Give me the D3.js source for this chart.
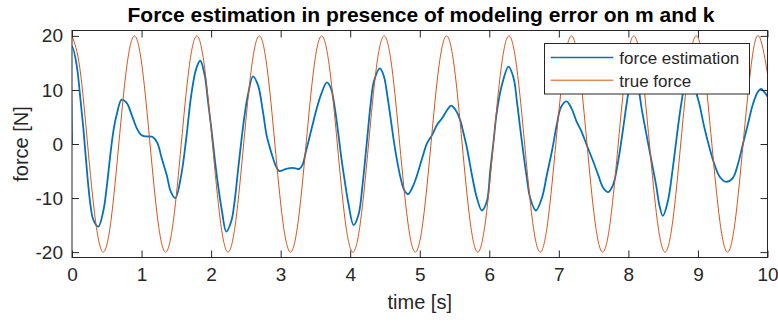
<!DOCTYPE html>
<html>
<head>
<meta charset="utf-8">
<script src="https://cdn.jsdelivr.net/npm/d3@7"></script>
<style>
  html, body { margin: 0; padding: 0; background: #fff; }
  svg text { font-family: "Liberation Sans", Arial, Helvetica, sans-serif; fill: #262626; }
</style>
</head>
<body>
<svg id="chart" width="778" height="324"></svg>
<script>
// ---------- data ----------
const title = "Force estimation in presence of modeling error on m and k";
const xLabel = "time [s]";
const yLabel = "force [N]";
const seriesNames = ["force estimation", "true force"];
const xTicks = [0, 1, 2, 3, 4, 5, 6, 7, 8, 9, 10];
const yTicks = [-20, -10, 0, 10, 20];

// force estimation (blue)
const estTime = [0, 0.003, 0.067, 0.115, 0.163, 0.211, 0.259, 0.306, 0.378, 0.45, 0.498, 0.546, 0.594, 0.642, 0.714, 0.786, 0.858, 0.93, 1.0, 1.074, 1.16, 1.227, 1.289, 1.361, 1.42, 1.485, 1.571, 1.643, 1.715, 1.787, 1.844, 1.907, 1.955, 2.003, 2.051, 2.099, 2.156, 2.218, 2.29, 2.338, 2.386, 2.434, 2.482, 2.53, 2.602, 2.674, 2.745, 2.8, 2.86, 2.932, 2.98, 3.076, 3.172, 3.268, 3.316, 3.364, 3.412, 3.46, 3.507, 3.579, 3.665, 3.723, 3.771, 3.819, 3.867, 3.915, 3.977, 4.049, 4.121, 4.178, 4.21, 4.245, 4.293, 4.341, 4.427, 4.485, 4.532, 4.581, 4.628, 4.676, 4.725, 4.772, 4.83, 4.892, 4.963, 5.035, 5.107, 5.179, 5.251, 5.323, 5.395, 5.452, 5.515, 5.587, 5.62, 5.678, 5.75, 5.822, 5.893, 5.965, 6.013, 6.061, 6.109, 6.181, 6.277, 6.349, 6.397, 6.444, 6.493, 6.54, 6.588, 6.67, 6.756, 6.828, 6.9, 6.971, 7.03, 7.11, 7.182, 7.254, 7.326, 7.398, 7.493, 7.565, 7.637, 7.709, 7.781, 7.853, 7.925, 7.973, 8.03, 8.08, 8.135, 8.19, 8.26, 8.333, 8.405, 8.44, 8.495, 8.567, 8.639, 8.711, 8.758, 8.82, 8.89, 8.95, 8.98, 9.022, 9.094, 9.166, 9.238, 9.31, 9.405, 9.5, 9.573, 9.645, 9.717, 9.789, 9.86, 9.908, 9.96, 10.0];
const estForce = [0, 18.0, 14.6, 9.1, 2.95, -4.4, -10.6, -14.0, -15.3, -12.4, -8.1, -2.6, 2.3, 5.4, 8.2, 7.6, 5.4, 2.95, 1.6, 1.4, 1.3, 0.2, -2.6, -5.7, -8.8, -10.0, -5.7, 1.1, 9.1, 14.0, 15.4, 12.8, 7.9, 2.95, -2.6, -7.5, -12.4, -16.2, -14.3, -10.6, -5.0, 0.5, 5.4, 9.1, 12.5, 10.9, 6.0, 1.5, -1.35, -4.1, -5.0, -4.6, -4.4, -4.6, -3.8, -1.35, 1.1, 3.6, 6.0, 9.1, 11.4, 10.3, 7.3, 2.95, -2.0, -6.3, -11.2, -15.0, -13.0, -7.5, -3.5, 1.1, 7.3, 11.6, 14.0, 12.5, 9.1, 4.8, 0.5, -3.2, -6.3, -8.4, -9.3, -8.1, -5.7, -2.6, 0.2, 1.7, 3.6, 4.8, 6.3, 7.1, 6.3, 4.2, 2.5, -0.7, -5.7, -10.0, -12.3, -10.6, -5.0, 0.5, 6.0, 10.9, 14.3, 12.2, 7.9, 2.95, -2.0, -6.3, -10.0, -12.3, -10.0, -5.7, -1.35, 3.6, 6.8, 7.9, 6.6, 4.2, 2.3, -0.1, -3.2, -5.7, -8.1, -8.9, -7.5, -3.2, 2.95, 7.3, 11.5, 13.0, 11.0, 6.6, 1.7, -3.2, -8.1, -11.0, -13.3, -10.6, -4.4, 2.95, 7.3, 11.5, 13.0, 11.0, 9.3, 7.3, 2.95, -0.7, -3.8, -6.0, -7.0, -6.3, -3.8, -0.1, 3.6, 7.3, 9.6, 10.2, 9.5, 8.8];

// true force (red): values read at every eighth of its period
const trueTime = [0, 0.112, 0.224, 0.337, 0.449, 0.561, 0.673, 0.785, 0.898, 1.010, 1.122, 1.234, 1.346, 1.459, 1.571, 1.683, 1.795, 1.907, 2.020, 2.132, 2.244, 2.356, 2.468, 2.581, 2.693, 2.805, 2.917, 3.029, 3.142, 3.254, 3.366, 3.478, 3.590, 3.703, 3.815, 3.927, 4.039, 4.151, 4.264, 4.376, 4.488, 4.600, 4.712, 4.825, 4.937, 5.049, 5.161, 5.273, 5.386, 5.498, 5.610, 5.722, 5.834, 5.947, 6.059, 6.171, 6.283, 6.395, 6.508, 6.620, 6.732, 6.844, 6.956, 7.069, 7.181, 7.293, 7.405, 7.517, 7.630, 7.742, 7.854, 7.966, 8.078, 8.191, 8.303, 8.415, 8.527, 8.639, 8.752, 8.864, 8.976, 9.088, 9.200, 9.313, 9.425, 9.537, 9.649, 9.761, 9.874, 9.986, 10.0];
const trueForce = [20, 14.1, 0, -14.1, -20, -14.1, 0, 14.1, 20, 14.1, 0, -14.1, -20, -14.1, 0, 14.1, 20, 14.1, 0, -14.1, -20, -14.1, 0, 14.1, 20, 14.1, 0, -14.1, -20, -14.1, 0, 14.1, 20, 14.1, 0, -14.1, -20, -14.1, 0, 14.1, 20, 14.1, 0, -14.1, -20, -14.1, 0, 14.1, 20, 14.1, 0, -14.1, -20, -14.1, 0, 14.1, 20, 14.1, 0, -14.1, -20, -14.1, 0, 14.1, 20, 14.1, 0, -14.1, -20, -14.1, 0, 14.1, 20, 14.1, 0, -14.1, -20, -14.1, 0, 14.1, 20, 14.1, 0, -14.1, -20, -14.1, 0, 14.1, 20, 14.1, 12.7];

const colors = ["#0072BD", "#D95319"];
const axisColor = "#262626";

// ---------- layout ----------
const L = 72, R = 767.5, T = 30.5, B = 257.5;
const svg = d3.select("#chart");
svg.append("rect").attr("width", 778).attr("height", 324).attr("fill", "#fff");

const x = d3.scaleLinear().domain([0, 10]).range([L, R]);
const y = d3.scaleLinear().domain([-21, 21]).range([B, T]);

svg.append("defs").append("clipPath").attr("id", "clip")
  .append("rect").attr("x", L).attr("y", T).attr("width", R - L).attr("height", B - T);

// lines
const estData = estTime.map((t, i) => [t, estForce[i]]);
const trueData = trueTime.map((t, i) => [t, trueForce[i]]);

const lineEst = d3.line().x(d => x(d[0])).y(d => y(d[1])).curve(d3.curveCatmullRom.alpha(0.5));
const lineTrue = d3.line().x(d => x(d[0])).y(d => y(d[1])).curve(d3.curveNatural);

const g = svg.append("g").attr("clip-path", "url(#clip)");
g.append("path").datum(estData).attr("d", lineEst)
  .attr("fill", "none").attr("stroke", colors[0]).attr("stroke-width", 1.8).attr("stroke-linejoin", "round");
g.append("path").datum(trueData).attr("d", lineTrue)
  .attr("fill", "none").attr("stroke", colors[1]).attr("stroke-width", 1);

// axes
const fmt = d => String(d);
function styleAxis(sel) {
  sel.select(".domain").remove();
  sel.selectAll(".tick line").attr("stroke", axisColor);
  sel.selectAll(".tick text").attr("fill", axisColor)
    .style("font-family", '"Liberation Sans", Arial, Helvetica, sans-serif');
}
const ax = svg.append("g").attr("transform", `translate(0,${B})`)
  .call(d3.axisBottom(x).tickValues(xTicks).tickSize(-7).tickPadding(10).tickFormat(fmt));
styleAxis(ax);
ax.selectAll(".tick text").style("font-size", "19px");

const axTop = svg.append("g").attr("transform", `translate(0,${T})`)
  .call(d3.axisTop(x).tickValues(xTicks).tickSize(-7).tickFormat(""));
styleAxis(axTop);

const ay = svg.append("g").attr("transform", `translate(${L},0)`)
  .call(d3.axisLeft(y).tickValues(yTicks).tickSize(-7).tickPadding(9).tickFormat(fmt));
styleAxis(ay);
ay.selectAll(".tick text").style("font-size", "19px");

const ayR = svg.append("g").attr("transform", `translate(${R},0)`)
  .call(d3.axisRight(y).tickValues(yTicks).tickSize(-7).tickFormat(""));
styleAxis(ayR);

svg.append("rect").attr("x", L).attr("y", T).attr("width", R - L).attr("height", B - T)
  .attr("fill", "none").attr("stroke", axisColor).attr("stroke-width", 1);

// labels
svg.append("text").attr("x", 421).attr("y", 21.5).attr("text-anchor", "middle")
  .style("font-size", "21px").style("font-weight", "bold").style("fill", "#000").text(title);
svg.append("text").attr("x", (L + R) / 2).attr("y", 309).attr("text-anchor", "middle")
  .style("font-size", "20px").text(xLabel);
svg.append("text").attr("transform", `translate(28,${(T + B) / 2}) rotate(-90)`).attr("text-anchor", "middle")
  .style("font-size", "20px").text(yLabel);

// legend
const leg = svg.append("g");
leg.append("rect").attr("x", 544.5).attr("y", 43.5).attr("width", 205).attr("height", 50.5)
  .attr("fill", "#fff").attr("stroke", axisColor).attr("stroke-width", 1);
seriesNames.forEach((name, i) => {
  const yy = 57.5 + i * 22.7;
  leg.append("line").attr("x1", 550.7).attr("x2", 613.3).attr("y1", yy).attr("y2", yy)
    .attr("stroke", colors[i]).attr("stroke-width", i === 0 ? 1.3 : 1);
  leg.append("text").attr("x", 619.3).attr("y", yy + 6.3).style("font-size", "17px").text(name);
});
</script>
</body>
</html>
